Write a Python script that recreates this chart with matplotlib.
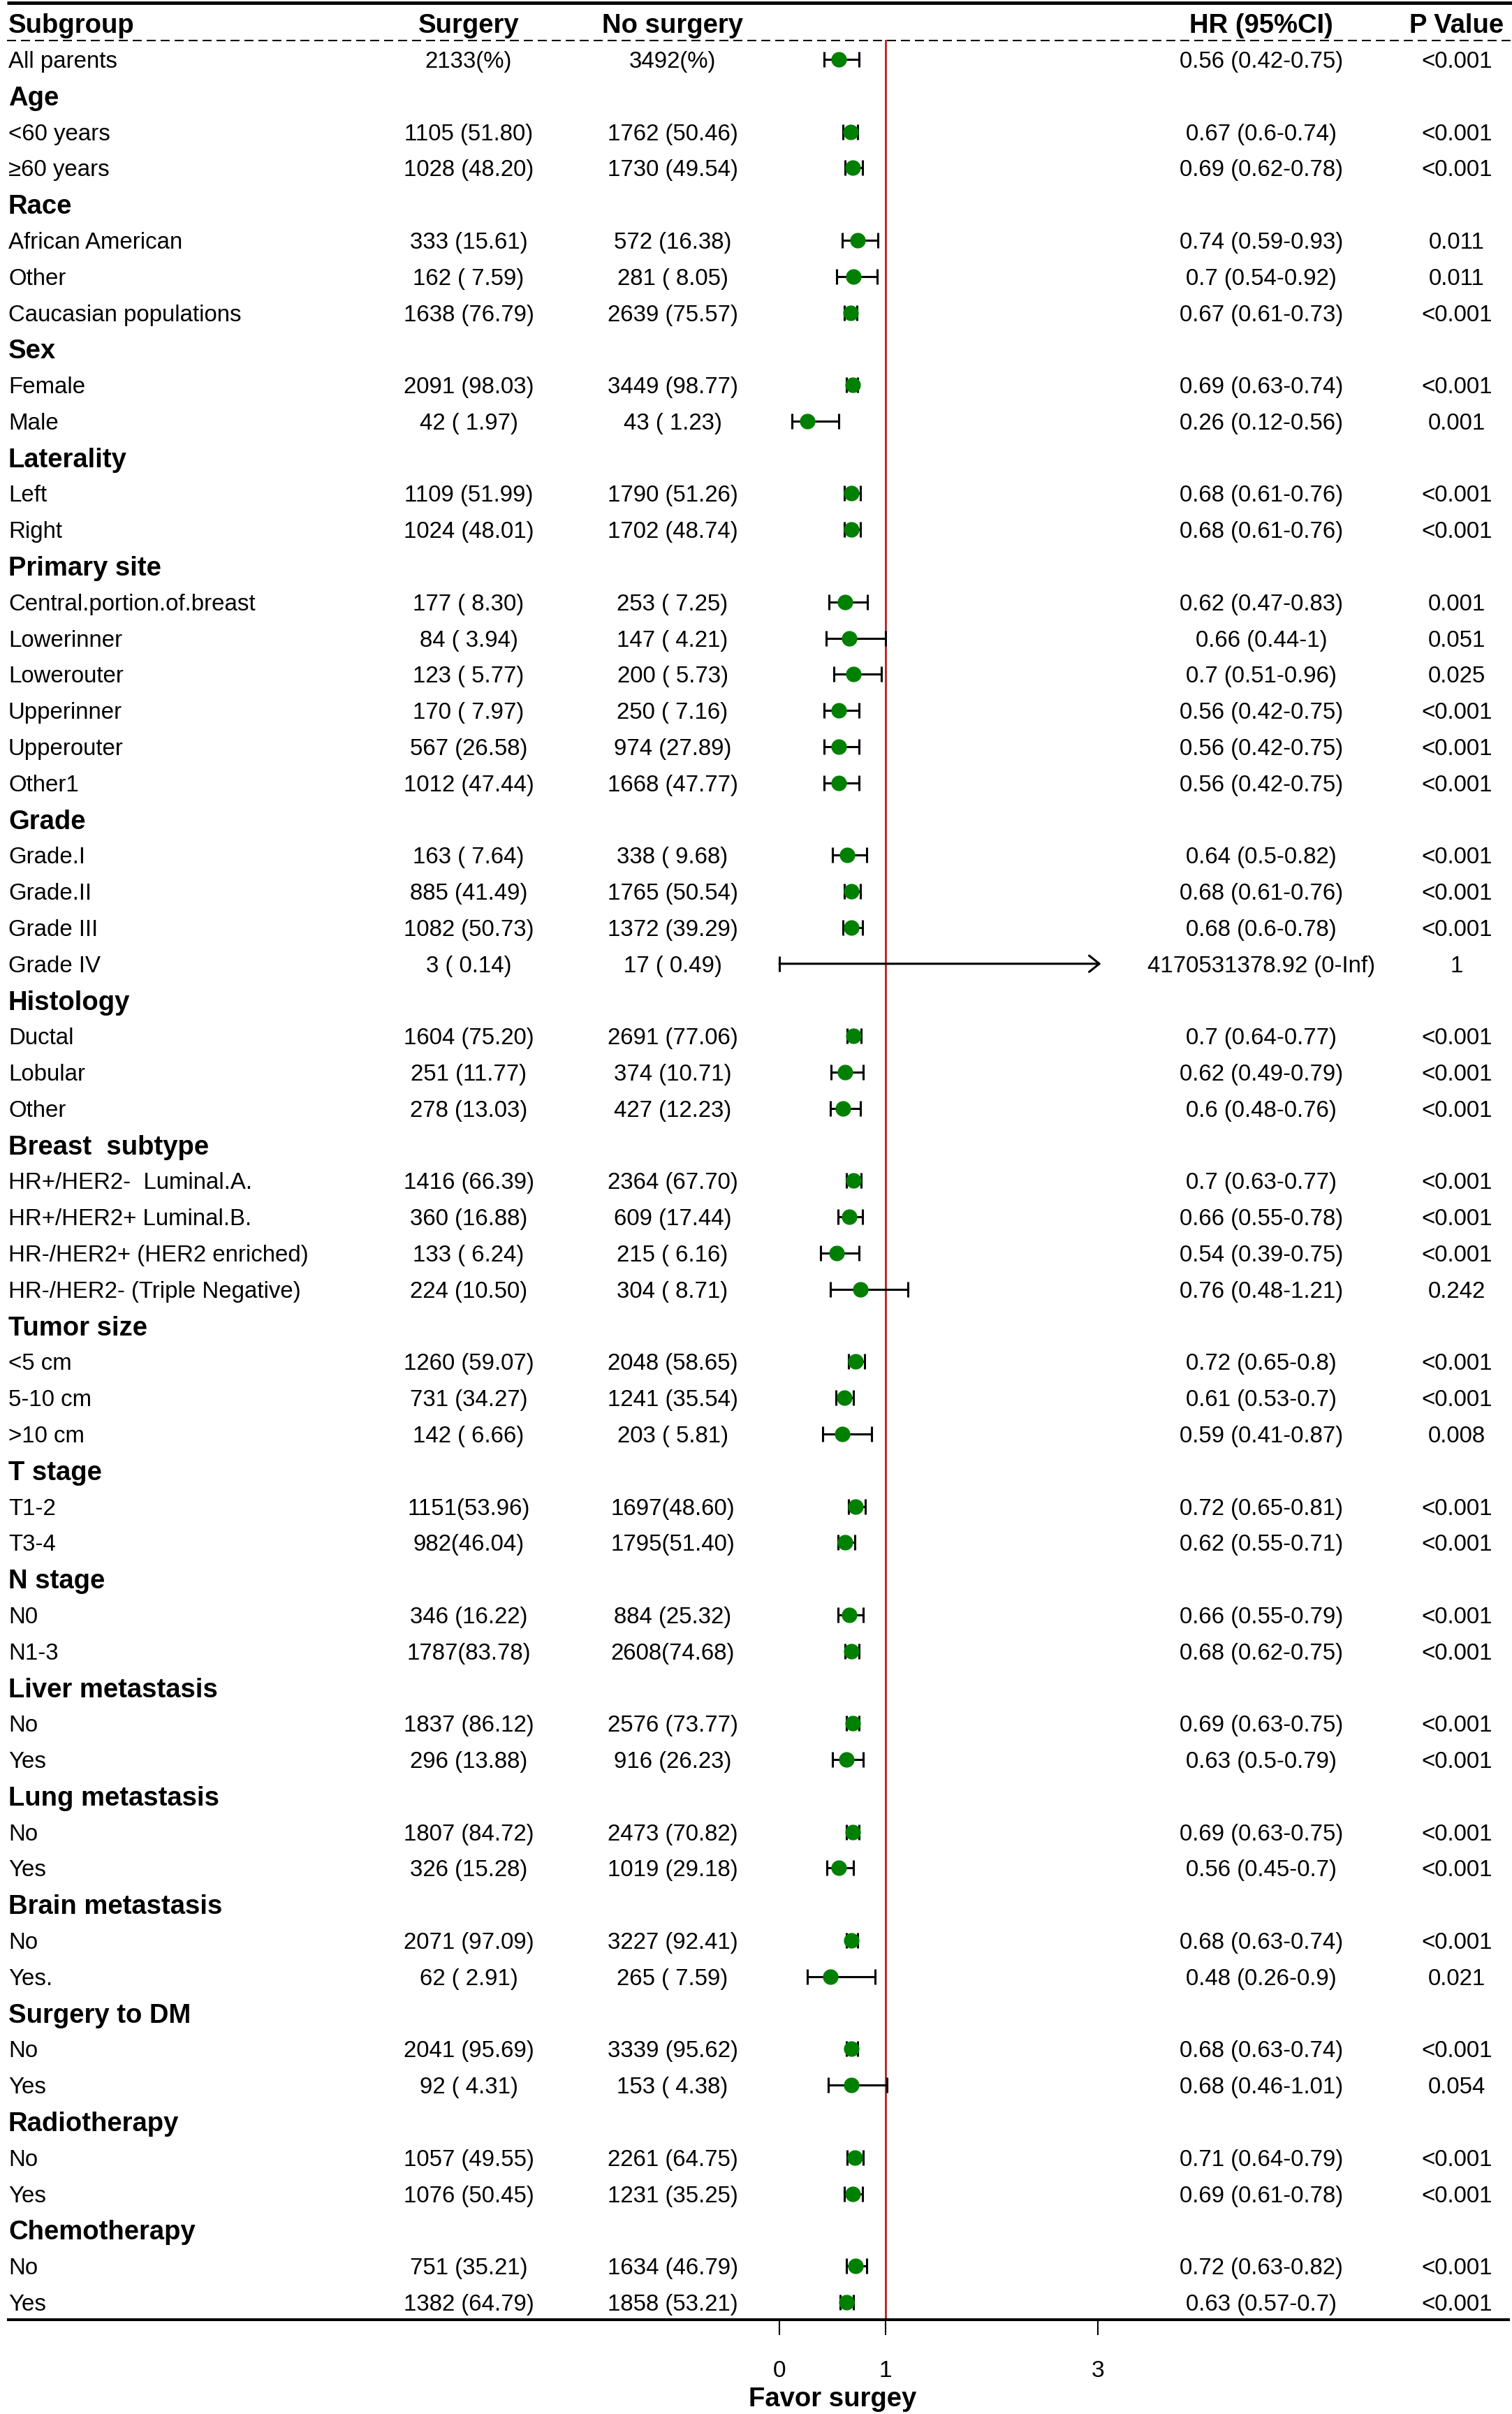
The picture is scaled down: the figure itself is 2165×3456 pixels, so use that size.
import numpy as np
import matplotlib
matplotlib.use("Agg")
import matplotlib.pyplot as plt
from matplotlib.transforms import blended_transform_factory

plt.rcParams['font.family'] = ['Liberation Sans', 'DejaVu Sans']

# ---------------- data ----------------
overall_label = "All parents"
groups = ["Age", "Race", "Sex", "Laterality", "Primary site", "Grade", "Histology",
          "Breast  subtype", "Tumor size", "T stage", "N stage", "Liver metastasis",
          "Lung metastasis", "Brain metastasis", "Surgery to DM", "Radiotherapy",
          "Chemotherapy"]
subgroups = [
    ["<60 years", "≥60 years"],
    ["African American", "Other", "Caucasian populations"],
    ["Female", "Male"],
    ["Left", "Right"],
    ["Central.portion.of.breast", "Lowerinner", "Lowerouter", "Upperinner", "Upperouter", "Other1"],
    ["Grade.I", "Grade.II", "Grade III", "Grade IV"],
    ["Ductal", "Lobular", "Other"],
    ["HR+/HER2-  Luminal.A.", "HR+/HER2+ Luminal.B.", "HR-/HER2+ (HER2 enriched)",
     "HR-/HER2- (Triple Negative)"],
    ["<5 cm", "5-10 cm", ">10 cm"],
    ["T1-2", "T3-4"],
    ["N0", "N1-3"],
    ["No", "Yes"],
    ["No", "Yes"],
    ["No", "Yes."],
    ["No", "Yes"],
    ["No", "Yes"],
    ["No", "Yes"],
]

surgery = ["2133(%)", "1105 (51.80)", "1028 (48.20)", "333 (15.61)", "162 ( 7.59)",
           "1638 (76.79)", "2091 (98.03)", "42 ( 1.97)", "1109 (51.99)", "1024 (48.01)",
           "177 ( 8.30)", "84 ( 3.94)", "123 ( 5.77)", "170 ( 7.97)", "567 (26.58)",
           "1012 (47.44)", "163 ( 7.64)", "885 (41.49)", "1082 (50.73)", "3 ( 0.14)",
           "1604 (75.20)", "251 (11.77)", "278 (13.03)", "1416 (66.39)", "360 (16.88)",
           "133 ( 6.24)", "224 (10.50)", "1260 (59.07)", "731 (34.27)", "142 ( 6.66)",
           "1151(53.96)", "982(46.04)", "346 (16.22)", "1787(83.78)", "1837 (86.12)",
           "296 (13.88)", "1807 (84.72)", "326 (15.28)", "2071 (97.09)", "62 ( 2.91)",
           "2041 (95.69)", "92 ( 4.31)", "1057 (49.55)", "1076 (50.45)", "751 (35.21)",
           "1382 (64.79)"]
no_surgery = ["3492(%)", "1762 (50.46)", "1730 (49.54)", "572 (16.38)", "281 ( 8.05)",
              "2639 (75.57)", "3449 (98.77)", "43 ( 1.23)", "1790 (51.26)", "1702 (48.74)",
              "253 ( 7.25)", "147 ( 4.21)", "200 ( 5.73)", "250 ( 7.16)", "974 (27.89)",
              "1668 (47.77)", "338 ( 9.68)", "1765 (50.54)", "1372 (39.29)", "17 ( 0.49)",
              "2691 (77.06)", "374 (10.71)", "427 (12.23)", "2364 (67.70)", "609 (17.44)",
              "215 ( 6.16)", "304 ( 8.71)", "2048 (58.65)", "1241 (35.54)", "203 ( 5.81)",
              "1697(48.60)", "1795(51.40)", "884 (25.32)", "2608(74.68)", "2576 (73.77)",
              "916 (26.23)", "2473 (70.82)", "1019 (29.18)", "3227 (92.41)", "265 ( 7.59)",
              "3339 (95.62)", "153 ( 4.38)", "2261 (64.75)", "1231 (35.25)", "1634 (46.79)",
              "1858 (53.21)"]
hr = [0.56, 0.67, 0.69, 0.74, 0.7, 0.67, 0.69, 0.26, 0.68, 0.68, 0.62, 0.66, 0.7, 0.56,
      0.56, 0.56, 0.64, 0.68, 0.68, 4170531378.92, 0.7, 0.62, 0.6, 0.7, 0.66, 0.54, 0.76,
      0.72, 0.61, 0.59, 0.72, 0.62, 0.66, 0.68, 0.69, 0.63, 0.69, 0.56, 0.68, 0.48, 0.68,
      0.68, 0.71, 0.69, 0.72, 0.63]
hr_lo = [0.42, 0.6, 0.62, 0.59, 0.54, 0.61, 0.63, 0.12, 0.61, 0.61, 0.47, 0.44, 0.51, 0.42,
         0.42, 0.42, 0.5, 0.61, 0.6, 0, 0.64, 0.49, 0.48, 0.63, 0.55, 0.39, 0.48, 0.65, 0.53,
         0.41, 0.65, 0.55, 0.55, 0.62, 0.63, 0.5, 0.63, 0.45, 0.63, 0.26, 0.63, 0.46, 0.64,
         0.61, 0.63, 0.57]
hr_hi = [0.75, 0.74, 0.78, 0.93, 0.92, 0.73, 0.74, 0.56, 0.76, 0.76, 0.83, 1, 0.96, 0.75,
         0.75, 0.75, 0.82, 0.76, 0.78, np.inf, 0.77, 0.79, 0.76, 0.77, 0.78, 0.75, 1.21, 0.8,
         0.7, 0.87, 0.81, 0.71, 0.79, 0.75, 0.75, 0.79, 0.75, 0.7, 0.74, 0.9, 0.74, 1.01,
         0.79, 0.78, 0.82, 0.7]
p_values = ["<0.001", "<0.001", "<0.001", "0.011", "0.011", "<0.001", "<0.001", "0.001",
            "<0.001", "<0.001", "0.001", "0.051", "0.025", "<0.001", "<0.001", "<0.001",
            "<0.001", "<0.001", "<0.001", "1", "<0.001", "<0.001", "<0.001", "<0.001",
            "<0.001", "<0.001", "0.242", "<0.001", "<0.001", "0.008", "<0.001", "<0.001",
            "<0.001", "<0.001", "<0.001", "<0.001", "<0.001", "<0.001", "<0.001", "0.021",
            "<0.001", "0.054", "<0.001", "<0.001", "<0.001", "<0.001"]
xticks = [0, 1, 3]
headers = ["Subgroup", "Surgery", "No surgery", "HR (95%CI)", "P Value"]
xlabel_text = "Favor surgey"


def fmt(v):
    if np.isinf(v):
        return "Inf"
    return f"{v:.2f}".rstrip('0').rstrip('.')


# ---------------- row layout ----------------
row_labels, row_is_header = [overall_label], [False]
for g, subs in zip(groups, subgroups):
    row_labels.append(g)
    row_is_header.append(True)
    for s in subs:
        row_labels.append(s)
        row_is_header.append(False)
row_y = np.arange(1, len(row_labels) + 1)
data_y = np.array([y for y, h in zip(row_y, row_is_header) if not h])

hr_a, lo_a, hi_a = np.array(hr), np.array(hr_lo), np.array(hr_hi)

# ---------------- figure ----------------
W, H, DPI = 2165, 3456, 100
fig = plt.figure(figsize=(W / DPI, H / DPI), dpi=DPI)

row_px0, row_step = 85.0, 51.79        # pixel y of first row and row spacing
axis_px = 3321.0                       # pixel y of x-axis line
x0_px, unit_px = 1116.0, 152.0         # pixel x of HR=0 and px per unit

ax = fig.add_axes([0, (H - axis_px) / H, 1, axis_px / H])
y_bottom = 1 + (axis_px - row_px0) / row_step
y_top = 1 - row_px0 / row_step
ax.set_ylim(y_bottom, y_top)
ax.set_xlim(-x0_px / unit_px, (W - x0_px) / unit_px)


def px2row(py):
    return 1 + (py - row_px0) / row_step


def px2x(px):
    return (px - x0_px) / unit_px


for s in ["top", "left", "right"]:
    ax.spines[s].set_visible(False)
ax.spines["bottom"].set_linewidth(2.9)
ax.spines["bottom"].set_bounds(px2x(12), px2x(2160))
ax.set_yticks([])
ax.set_xticks(xticks)
ax.set_xticklabels([str(t) for t in xticks])
ax.tick_params(axis='x', direction='out', length=16, width=1.5, pad=26, labelsize=24)

# top solid and dashed lines
ax.plot([px2x(10), px2x(2165)], [px2row(4.5), px2row(4.5)], color='black', lw=3.5,
        solid_capstyle='butt', clip_on=False)
ax.plot([px2x(10), px2x(2165)], [px2row(58), px2row(58)], color='black', lw=1.5,
        linestyle=(0, (6.2, 3.4)), clip_on=False)

# reference line at HR = 1
ax.plot([1, 1], [px2row(58), y_bottom], color='#b22222', lw=2.0, zorder=1)

# error bars
finite = np.isfinite(hi_a)
ax.errorbar(hr_a[finite], data_y[finite],
            xerr=[hr_a[finite] - lo_a[finite], hi_a[finite] - hr_a[finite]],
            fmt='none', ecolor='black', elinewidth=2.2, capsize=8, capthick=2.2, zorder=2)
ci_clip = 3.03
for xv, lv, yv in zip(hr_a[~finite], lo_a[~finite], data_y[~finite]):
    ax.annotate('', xy=(ci_clip, yv), xytext=(lv, yv),
                arrowprops=dict(arrowstyle='->,head_length=0.35,head_width=0.28',
                                lw=2.2, color='black', shrinkA=0, shrinkB=0,
                                mutation_scale=30))
    ax.plot([lv], [yv], marker='|', ms=16, mew=2.2, color='black')
ax.plot(hr_a[finite], data_y[finite], 'o', color='#008000', ms=15, mec='#008000',
        zorder=3)

# ---------------- texts ----------------
tr = blended_transform_factory(fig.transFigure, ax.transData)
x_label, x_surg, x_nosurg, x_hr, x_p = 12 / W, 671 / W, 963 / W, 1806 / W, 2086 / W
fs, fs_b = 23.8, 27.5

ax.text(x_label, 0, headers[0], transform=tr, fontsize=fs_b, fontweight='bold',
        ha='left', va='center_baseline')
for xx, t in zip([x_surg, x_nosurg, x_hr, x_p], headers[1:]):
    ax.text(xx, 0, t, transform=tr, fontsize=fs_b, fontweight='bold', ha='center',
            va='center_baseline')

for y, lab, h in zip(row_y, row_labels, row_is_header):
    ax.text(x_label, y, lab, transform=tr, fontsize=fs_b if h else fs,
            fontweight='bold' if h else 'normal', ha='left', va='center_baseline')

for i, y in enumerate(data_y):
    ax.text(x_surg, y, surgery[i], transform=tr, fontsize=fs, ha='center',
            va='center_baseline')
    ax.text(x_nosurg, y, no_surgery[i], transform=tr, fontsize=fs, ha='center',
            va='center_baseline')
    ax.text(x_hr, y, f"{fmt(hr[i])} ({fmt(hr_lo[i])}-{fmt(hr_hi[i])})", transform=tr,
            fontsize=fs, ha='center', va='center_baseline')
    ax.text(x_p, y, p_values[i], transform=tr, fontsize=fs, ha='center',
            va='center_baseline')

fig.text(px2x(1192) * 0 + 1192 / W, (H - 3431) / H, xlabel_text, fontsize=fs_b,
         fontweight='bold', ha='center', va='center_baseline')

fig.savefig("out.png", dpi=DPI)
